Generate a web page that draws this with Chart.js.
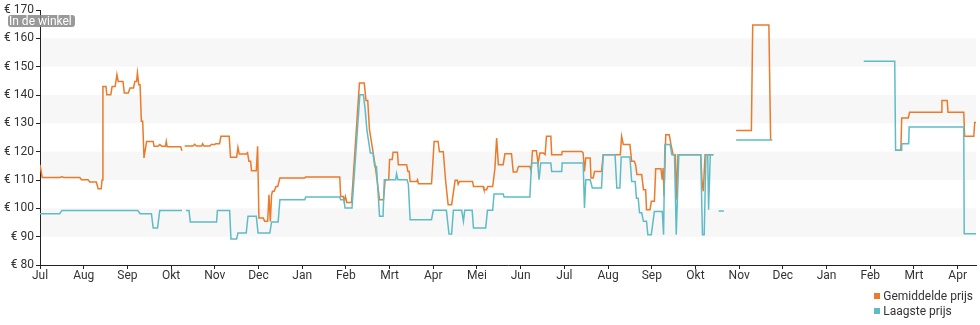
<!DOCTYPE html>
<html>
<head>
<meta charset="utf-8">
<script src="https://cdn.jsdelivr.net/npm/chart.js@4/dist/chart.umd.min.js"></script>
<style>
  html, body { margin: 0; padding: 0; background: #fff; }
  #wrap { position: relative; width: 980px; height: 325px; }
  #legend { position: absolute; right: 7px; top: 289px; font: 12px Roboto, sans-serif; color: #333; }
  #legend div { height: 14.5px; line-height: 14.5px; white-space: nowrap; }
  #legend span { display: inline-block; width: 6px; height: 6px; margin-right: 3px; vertical-align: 1px; }
</style>
</head>
<body>
<div id="wrap">
  <canvas id="prijsChart" width="980" height="325"></canvas>
  <div id="legend"></div>
</div>
<script>
// x = months since the first Jul (one unit per month)
const monthLabels = ['Jul', 'Aug', 'Sep', 'Okt', 'Nov', 'Dec', 'Jan', 'Feb', 'Mrt', 'Apr', 'Mei', 'Jun',
                     'Jul', 'Aug', 'Sep', 'Okt', 'Nov', 'Dec', 'Jan', 'Feb', 'Mrt', 'Apr'];
const priceTicks = [80, 90, 100, 110, 120, 130, 140, 150, 160, 170];
const seriesNames = ['Gemiddelde prijs', 'Laagste prijs'];
const seriesColors = ['#eb7a2a', '#5fbcc7'];

// Gemiddelde prijs
const gemX = [0.00, 0.05, 0.45, 0.50, 0.55, 0.91, 0.95, 1.10, 1.14, 1.29, 1.33, 1.40, 1.42, 1.44, 1.51, 1.53, 1.62, 1.65, 1.72, 1.76,
  1.79, 1.90, 1.93, 2.02, 2.06, 2.14, 2.17, 2.21, 2.23, 2.26, 2.29, 2.32, 2.35, 2.38, 2.40, 2.44, 2.59, 2.61, 2.70, 2.74,
  2.79, 2.87, 2.89, 2.91, 3.22, 3.25, 3.28, 3.31, 3.50, 3.54, 3.58, 3.70, 3.72, 3.75, 3.89, 3.92, 4.00, 4.02, 4.11, 4.14,
  4.33, 4.36, 4.50, 4.53, 4.56, 4.72, 4.75, 4.78, 4.82, 4.84, 4.95, 4.98, 5.01, 5.11, 5.14, 5.21, 5.24, 5.27, 5.30, 5.32,
  5.36, 5.40, 5.44, 5.49, 6.06, 6.08, 6.86, 6.88, 6.94, 6.96, 6.99, 7.02, 7.13, 7.31, 7.42, 7.46, 7.50, 7.54, 7.62, 7.68,
  7.77, 7.86, 7.90, 7.98, 8.00, 8.06, 8.08, 8.18, 8.20, 8.39, 8.42, 8.45, 8.47, 8.62, 8.64, 8.66, 8.96, 9.02, 9.11, 9.14,
  9.23, 9.28, 9.34, 9.42, 9.50, 9.55, 9.57, 9.60, 9.90, 9.92, 10.14, 10.16, 10.22, 10.25, 10.36, 10.41, 10.45, 10.49, 10.60, 10.64,
  10.79, 10.83, 10.91, 10.95, 11.21, 11.24, 11.27, 11.36, 11.40, 11.44, 11.52, 11.56, 11.59, 11.69, 11.71, 11.94, 11.95, 12.40, 12.43, 12.46,
  12.49, 12.59, 12.61, 12.66, 12.69, 12.85, 12.89, 13.28, 13.31, 13.35, 13.50, 13.54, 13.60, 13.63, 13.66, 13.77, 13.81, 13.86, 13.88, 13.96,
  13.99, 14.06, 14.09, 14.21, 14.24, 14.26, 14.28, 14.32, 14.40, 14.44, 14.49, 14.54, 14.56, 14.60, 15.12, 15.15, 15.18, 15.22, 15.41, 15.60,
  15.93, 16.28, 16.31, 16.68, 16.72, 17.00, 19.58, 19.70, 19.72, 19.87, 19.90, 20.62, 20.64, 20.76, 20.78, 21.14, 21.16, 21.37, 21.39, 21.43];
const gemY = [115.4, 110.9, 110.9, 111.1, 110.9, 110.9, 110.1, 110.1, 109.3, 109.3, 106.9, 106.9, 110.0, 143.0, 143.0, 140.1, 140.1, 143.0, 143.0, 147.2,
  144.8, 144.8, 140.7, 140.7, 142.5, 142.5, 144.8, 144.8, 147.8, 143.6, 143.6, 130.7, 130.7, 117.8, 117.8, 123.6, 123.6, 121.9, 121.9, 122.5,
  121.9, 121.9, 123.6, 121.7, 121.7, 120.3, null, 122.0, 122.0, 122.6, 122.0, 122.0, 122.8, 122.0, 122.0, 122.5, 122.5, 122.8, 122.8, 125.4,
  125.4, 118.0, 118.0, 121.5, 119.2, 119.2, 119.6, 116.6, 116.6, 113.3, 113.3, 121.9, 96.6, 96.6, 95.4, 95.4, 104.8, 95.4, 104.8, 106.0,
  106.0, 107.7, 107.7, 110.7, 110.7, 111.1, 111.1, 104.2, 104.2, 102.5, 104.2, 102.1, 102.1, 144.2, 144.2, 138.1, 138.1, 127.8, 120.0, 114.0,
  103.0, 103.0, 110.1, 110.1, 117.2, 117.2, 119.8, 119.8, 115.4, 115.4, 113.0, 113.0, 109.5, 109.5, 110.1, 108.7, 108.7, 123.6, 123.6, 120.0,
  120.0, 110.1, 101.3, 101.3, 109.9, 109.9, 108.5, 109.5, 109.5, 107.7, 107.7, 106.6, 106.6, 107.7, 107.7, 114.0, 124.8, 115.4, 115.4, 119.3,
  119.3, 112.8, 112.8, 114.8, 114.8, 113.2, 120.3, 120.3, 115.9, 119.5, 119.5, 119.0, 125.4, 125.4, 118.9, 118.9, 120.1, 120.1, 119.5, 113.0,
  117.8, 117.8, 110.7, 110.7, 113.0, 113.0, 118.9, 118.9, 125.4, 122.5, 122.5, 116.6, 116.6, 115.4, 111.9, 111.9, 106.6, 106.6, 99.5, 99.5,
  102.5, 102.5, 114.0, 114.0, 110.1, 114.2, 104.2, 126.0, 126.0, 122.5, 118.9, 118.9, 103.0, 118.9, 118.9, 109.5, 106.0, 118.9, 118.9, null,
  127.5, 127.5, 164.7, 164.7, 124.2, null, 120.5, 120.5, 131.9, 131.9, 133.9, 133.9, 138.1, 138.1, 133.9, 133.9, 125.4, 125.4, 130.3, 130.3];

// Laagste prijs
const laagX = [0.00, 0.45, 0.50, 2.24, 2.29, 2.55, 2.59, 2.69, 2.74, 3.25, 3.30, 3.34, 3.41, 3.44, 4.04, 4.06, 4.34, 4.37, 4.50, 4.53,
  4.72, 4.76, 4.95, 4.99, 5.26, 5.30, 5.45, 5.49, 6.06, 6.08, 6.86, 6.88, 6.96, 6.98, 7.14, 7.32, 7.40, 7.44, 7.48, 7.56,
  7.62, 7.66, 7.70, 7.77, 7.85, 7.88, 8.14, 8.16, 8.19, 8.40, 8.43, 8.47, 8.96, 9.00, 9.30, 9.36, 9.42, 9.46, 9.65, 9.69,
  9.72, 9.89, 9.92, 10.20, 10.24, 10.36, 10.39, 10.60, 10.62, 11.21, 11.25, 11.39, 11.42, 11.46, 11.69, 11.71, 11.94, 11.95, 12.43, 12.46,
  12.49, 12.59, 12.64, 12.85, 12.89, 13.16, 13.20, 13.27, 13.30, 13.50, 13.54, 13.62, 13.65, 13.69, 13.72, 13.77, 13.81, 13.88, 13.91, 13.99,
  14.06, 14.24, 14.27, 14.30, 14.42, 14.46, 14.52, 14.56, 14.62, 15.12, 15.16, 15.20, 15.24, 15.28, 15.30, 15.34, 15.41, 15.47, 15.53, 15.65,
  15.80, 15.93, 16.76, 17.50, 18.85, 19.56, 19.58, 19.71, 19.72, 19.88, 19.89, 21.14, 21.15, 21.43];
const laagY = [98.1, 98.1, 99.2, 99.2, 98.1, 98.1, 93.1, 93.1, 99.2, 99.2, null, 99.2, 99.2, 95.2, 95.2, 99.2, 99.2, 89.2, 89.2, 91.3,
  91.3, 97.2, 97.2, 91.3, 91.3, 95.2, 95.2, 103.0, 103.0, 104.0, 104.0, 103.0, 103.0, 100.1, 100.1, 140.1, 140.1, 135.0, 127.8, 119.5,
  119.5, 114.8, 114.8, 97.2, 97.2, 110.1, 110.1, 112.2, 110.1, 110.1, 108.5, 96.0, 96.0, 99.3, 99.3, 90.9, 90.9, 99.3, 99.3, 95.4,
  99.3, 99.3, 93.1, 93.1, 99.3, 99.3, 105.1, 105.1, 104.0, 104.0, 116.0, 116.0, 110.1, 116.0, 116.0, 113.0, 113.0, 116.0, 116.0, 100.1,
  110.1, 110.1, 107.2, 107.2, 118.9, 118.9, 107.2, 107.2, 118.1, 118.1, 109.5, 109.5, 103.6, 103.6, 98.4, 98.4, 95.4, 95.4, 90.7, 90.7,
  98.9, 98.9, 90.7, 122.5, 122.5, 118.9, 118.9, 90.7, 118.9, 118.9, 90.7, 90.7, 118.9, 118.9, 99.5, 118.9, 118.9, null, 99.1, 99.1,
  null, 124.1, 124.1, null, 151.9, 151.9, 120.5, 120.5, 122.8, 122.8, 128.7, 128.7, 91.0, 91.0];

const toPoints = (xs, ys) => xs.map((x, i) => ({ x: x, y: ys[i] }));

// light stripes behind every other 10 euro band
const bandPlugin = {
  id: 'bands',
  beforeDatasetsDraw(chart) {
    const { ctx, chartArea, scales } = chart;
    ctx.save();
    ctx.fillStyle = '#f7f7f7';
    for (let v = 90; v < 170; v += 20) {
      const top = scales.y.getPixelForValue(v + 10);
      const bottom = scales.y.getPixelForValue(v);
      ctx.fillRect(chartArea.left + 1, top, chartArea.right - chartArea.left - 1, bottom - top);
    }
    ctx.restore();
  }
};

// grey "In de winkel" tag in the top left corner
const tagPlugin = {
  id: 'tag',
  afterDraw(chart) {
    const ctx = chart.ctx;
    ctx.save();
    ctx.fillStyle = 'rgba(135,135,135,0.85)';
    ctx.beginPath();
    ctx.roundRect(8, 15, 67, 12, 3);
    ctx.fill();
    ctx.fillStyle = '#fff';
    ctx.font = '12px Roboto';
    ctx.textBaseline = 'middle';
    ctx.fillText('In de winkel', 9, 21.5);
    ctx.restore();
  }
};

Chart.defaults.font.family = 'Roboto';
Chart.defaults.font.size = 12;
Chart.defaults.color = '#333';

const chart = new Chart(document.getElementById('prijsChart'), {
  type: 'line',
  data: {
    datasets: [
      { label: seriesNames[0], data: toPoints(gemX, gemY), borderColor: seriesColors[0], backgroundColor: seriesColors[0], order: 2 },
      { label: seriesNames[1], data: toPoints(laagX, laagY), borderColor: seriesColors[1], backgroundColor: seriesColors[1], order: 1 }
    ]
  },
  options: {
    responsive: false,
    animation: false,
    spanGaps: false,
    elements: {
      point: { radius: 0 },
      line: { borderWidth: 1.5, tension: 0 }
    },
    layout: { padding: { top: 10, right: 4, left: 0, bottom: 0 } },
    plugins: { legend: { display: false }, tooltip: { enabled: false } },
    scales: {
      x: {
        type: 'linear',
        min: 0,
        max: 21.42,
        afterFit(scale) { scale.height = 60; },
        border: { color: '#222', width: 1 },
        grid: { drawOnChartArea: false, color: '#222', tickLength: 4 },
        ticks: {
          stepSize: 1,
          includeBounds: false,
          autoSkip: false,
          maxRotation: 0,
          padding: 0,
          callback: v => monthLabels[v]
        }
      },
      y: {
        min: priceTicks[0],
        max: priceTicks[priceTicks.length - 1],
        afterFit(scale) { scale.width = 40; },
        afterBuildTicks(scale) { scale.ticks = priceTicks.map(v => ({ value: v })); },
        border: { color: '#222', width: 1 },
        grid: { drawOnChartArea: false, color: '#222', tickLength: 4 },
        ticks: { padding: 2, callback: v => '€ ' + v }
      }
    }
  },
  plugins: [bandPlugin, tagPlugin]
});

// legend stacked at the bottom right
document.getElementById('legend').innerHTML = chart.data.datasets
  .map(ds => `<div><span style="background:${ds.borderColor}"></span>${ds.label}</div>`)
  .join('');
</script>
</body>
</html>
